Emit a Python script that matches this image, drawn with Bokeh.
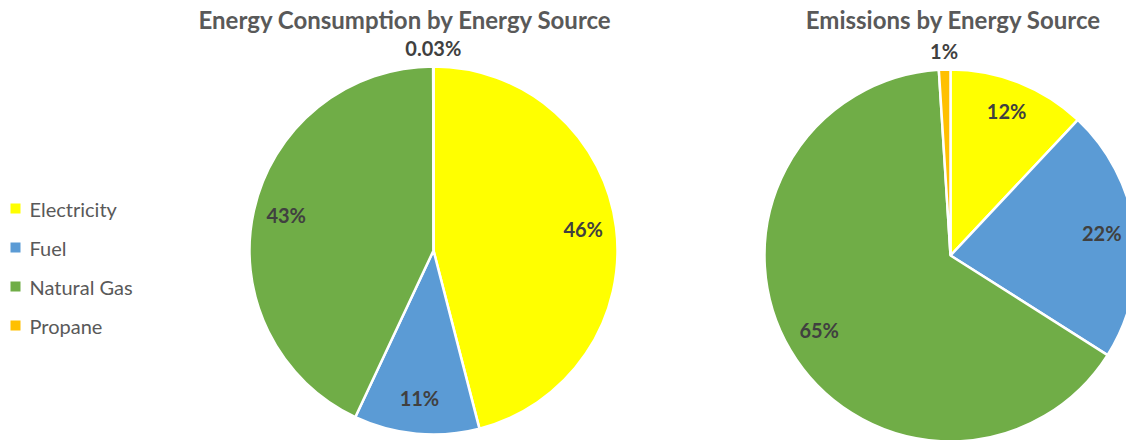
import numpy as np
from bokeh.plotting import figure
from bokeh.models import Range1d
from bokeh.core.properties import value
from bokeh.embed import file_html
from bokeh.resources import INLINE

# Share of each energy source
categories = ["Electricity", "Fuel", "Natural Gas", "Propane"]
colors = ["#FFFF00", "#5B9BD5", "#70AD47", "#FFC000"]
consumption_pct = [46, 11, 43, 0.03]
emissions_pct = [12, 22, 65, 1]
titles = ["Energy Consumption by Energy Source", "Emissions by Energy Source"]

W, H = 1126, 440
FONT = value("Lato")
TEXT_DARK = "#404040"
TEXT_GREY = "#595959"

p = figure(width=W, height=H, x_range=Range1d(0, W), y_range=Range1d(0, H),
           min_border=0, toolbar_location=None, output_backend="svg",
           x_axis_location=None, y_axis_location=None, outline_line_color=None)
p.grid.visible = False


def draw_pie(values, cx, cy, r, title, title_x):
    vals = np.asarray(values, dtype=float)
    frac = vals / vals.sum()
    ends = np.cumsum(frac)
    starts = ends - frac
    # clockwise from 12 o'clock
    start_ang = np.pi / 2 - starts * 2 * np.pi
    end_ang = np.pi / 2 - ends * 2 * np.pi
    p.wedge(x=[cx] * len(vals), y=[cy] * len(vals), radius=r,
            start_angle=list(start_ang), end_angle=list(end_ang),
            direction="clock", fill_color=colors, line_color="white",
            line_width=2.5)
    mid = (starts + ends) / 2 * 2 * np.pi
    lx, ly, lt = [], [], []
    for m, f, v in zip(mid, frac, vals):
        k = 1.1 if f < 0.02 else 0.82
        lx.append(cx + k * r * np.sin(m))
        ly.append(cy + k * r * np.cos(m) + (0 if f < 0.02 else 3))
        lt.append(f"{v:g}%")
    p.text(x=lx, y=ly, text=lt, text_font=FONT, text_font_style="bold",
           text_font_size="20px", text_color=TEXT_DARK,
           text_align="center", text_baseline="middle")
    p.text(x=[title_x], y=[H - 19], text=[title], text_font=FONT,
           text_font_style="bold", text_font_size="24px",
           text_color=TEXT_GREY, text_align="center", text_baseline="middle")


draw_pie(consumption_pct, 433, H - 250, 184, titles[0], 405)
draw_pie(emissions_pct, 950, H - 255, 186, titles[1], 953)

# Legend
leg_y = [H - 208 - 39 * i for i in range(len(categories))]
p.scatter(x=[15] * len(categories), y=leg_y, marker="square", size=10,
          fill_color=colors, line_color=None)
p.text(x=[29] * len(categories), y=leg_y, text=categories, text_font=FONT,
       text_font_size="20px", text_color=TEXT_GREY, text_align="left",
       text_baseline="middle")

open("out.html", "w").write(file_html(p, INLINE))
